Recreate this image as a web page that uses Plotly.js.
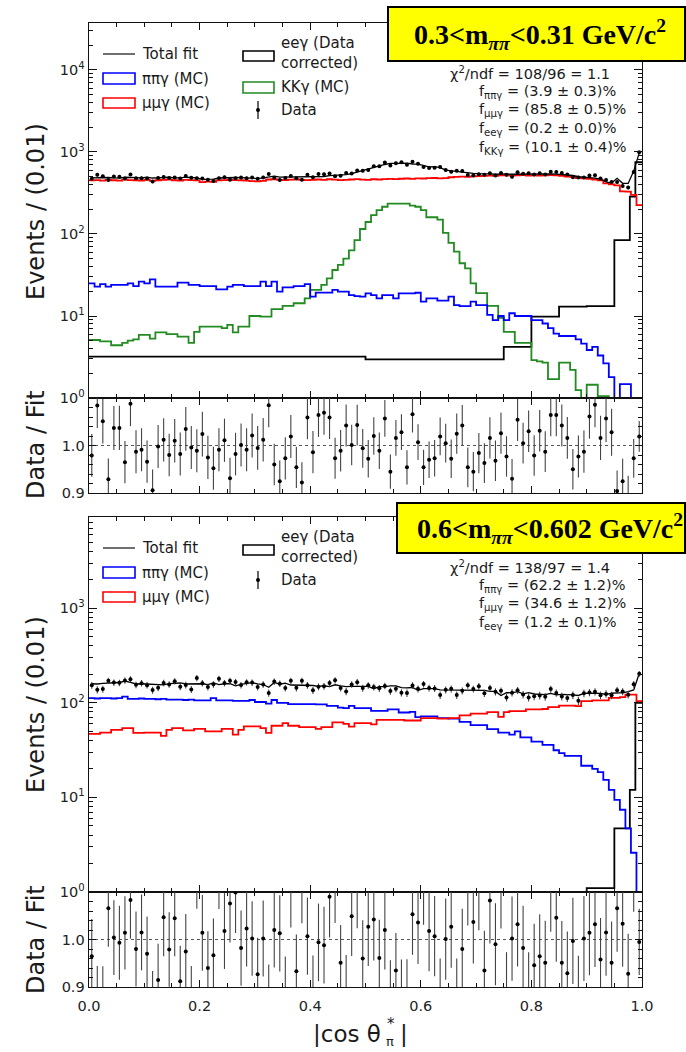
<!DOCTYPE html>
<html><head><meta charset="utf-8">
<script src="https://cdn.plot.ly/plotly-3.0.1.min.js"></script>
<style>html,body{margin:0;padding:0;background:#fff}</style>
</head><body><div id="chart" style="width:686px;height:1052px"></div>
<script>
// ---------------- data ----------------
const binWidth = 0.01;
const xTickVals = [0, 0.2, 0.4, 0.6, 0.8, 1.0];
const xTickText = ['0.0', '0.2', '0.4', '0.6', '0.8', '1.0'];
const logTickVals = [1, 10, 100, 1000, 10000];
const logTickText = ['10<sup>0</sup>', '10<sup>1</sup>', '10<sup>2</sup>', '10<sup>3</sup>', '10<sup>4</sup>'];
const ratioTickVals = [0.9, 1.0, 1.1];
const ratioTickText = ['0.9', '1.0', ''];

// top panel: 0.3 < m < 0.31
const topMuMu = [450,455,448,458,452,448,460,455,452,448,
 458,445,452,456,460,452,448,458,455,450,
 430,435,432,450,455,460,455,452,448,442,
 438,445,462,465,458,455,460,462,458,455,
 458,462,456,465,460,455,458,462,466,460,
 458,465,462,468,470,466,472,475,470,476,
 475,480,482,476,480,492,498,502,496,505,
 508,512,515,510,518,520,514,518,522,516,
 520,514,518,522,520,512,502,496,482,478,
 470,462,450,415,402,392,330,328,300,225];
const topPiPi = [25,22.8,24.5,22.8,23.9,23.9,23.9,25,23.2,26.2,
 25,28,22.8,22.8,22.8,22.8,25.5,25.5,23.9,23.9,
 23.2,23.2,23.2,21.1,21.1,22.8,23.9,23.9,23.2,23.2,
 23.2,26.2,23.2,26.2,19.8,22.4,22.4,23.2,23.2,24.5,
 17.2,19.3,19.3,19.3,20.8,19.8,19.8,18.0,17.5,17.2,
 18.9,18.0,16.4,18.0,18.0,16.4,18.9,18.9,18.9,19.2,
 15.0,16.4,16.4,15.4,15.4,17.2,13.6,13.2,13.2,15.0,
 13.6,13.6,10.3,8.9,10.0,8.9,10.8,10,10,10,
 8.9,8.9,8.1,7.1,6.1,5.7,5.7,5.7,5.2,4.6,
 3.85,4.2,3.3,2.65,1.8,1.0,1.48,1.48,0,0];
const topKK = [5.1,5.1,4.9,4.9,4.4,4.4,4.7,5.0,5.2,5.9,
 5.9,5.3,6.3,6.3,6.0,6.0,5.6,5.6,4.7,6.4,
 7.4,7.4,7.4,7.4,7.1,7.8,6.3,7.4,7.4,10,
 10,9.8,9.8,12.1,12.1,13.3,13.3,14.3,14.3,16.4,
 20.8,20.8,23.9,28.8,36.4,42,50,63,84,115,
 140,170,196,215,234,234,234,234,222,215,
 196,160,160,150,103,78,61,44,38,25,
 19,19,13.3,13.3,9.5,6.4,6.4,4.7,4.7,4.7,
 2.9,2.8,2.7,1.7,1.7,2.7,2.7,2.2,1.25,0,
 1.45,1.45,1.05,1.05,1.0,0,0,0,0,0];
const topEeEdges = [0, 0.5, 0.75, 0.8, 0.85, 0.9, 0.95, 0.978, 0.988, 1.0];
const topEeVals = [3.2, 2.96, 4.2, 9.8, 13, 13.2, 84, 285, 750];
const topRatio = [0.979,1.084,1.051,0.929,1.037,1.037,0.965,1.088,0.987,0.991,
 0.966,0.906,0.998,1.012,0.980,1.010,0.982,1.035,0.996,0.989,
 1.024,0.975,0.952,0.991,1.011,0.931,0.982,1.001,0.991,1.021,
 0.995,1.012,1.085,0.960,0.925,0.973,1.019,0.954,0.922,1.059,
 0.986,1.064,1.069,1.059,0.973,0.989,1.042,1.001,1.043,0.994,
 0.972,1.020,0.989,1.057,0.945,1.016,1.028,0.954,1.066,1.007,
 0.954,0.970,0.973,1.019,1.005,0.972,1.025,1.042,0.954,0.945,
 0.984,0.963,1.016,0.968,1.026,0.977,0.930,1.054,1.005,1.030,
 0.979,1.031,0.987,1.064,1.064,1.042,1.016,0.950,0.977,0.987,
 1.061,1.086,1.016,1.057,1.028,0.904,0.925,0.890,0.973,1.019];

// bottom panel: 0.6 < m < 0.602
const botMuMu = [47,47,48.5,48.5,51.8,51.8,54,54,48,48,
 48.5,48.5,48.5,44.8,51.8,54,54,51,51,53,
 53,50,50,50,53,53,46,51.8,56.3,56.3,
 56.3,54,48,57.2,57.2,61,57.2,57.2,55.3,55.3,
 55.3,53,55.3,55.3,62,62,60,56,61,61,
 61,59,66,66,66,66,66,65,65,65,
 69,69,69,68,68,69,69,73.5,73.5,77,
 77,77,79.5,79.5,71,79.5,81.5,81.5,81.5,85,
 85,85,86,90,90,93.5,93.5,93.5,92,104,
 104,106,106,106,113,113,115,122,122,104];
const botPiPi = [112,111,112,112,111,112,116,110,110,111,
 110,110,109,110,108,108,108,107,108,106,
 106,106,112,106,106,106,105,105,105,107,
 102,102,98,107,100,100,97,97,97,97,
 97,96,96,93,93,89,88,93,88,88,
 88,82,82,82,85,85,79,79,80,70.5,
 72,72,72,69,69,68,68,63,63,58,
 58,58,52.6,52.6,48.5,48.5,46,49.8,43,43,
 38.9,38.9,35.9,35.9,31.5,29.4,27.5,27.5,27.5,21.6,
 21.6,20,18.5,15.3,12,9.4,7.4,4.7,2.6,0];
const botEeEdges = [0, 0.9, 0.95, 0.978, 0.988, 1.0];
const botEeVals = [0, 1.1, 4.7, 12, 100];
const botRatio = [0.965,0.87,0.87,1.066,1.004,0.993,1.014,1.083,0.980,1.015,
 0.970,0.86,0.915,1.047,0.979,1.045,0.912,0.975,0.87,1.15,
 1.014,0.940,0.967,1.15,1.018,1.076,1.099,0.982,1.023,1.002,
 0.927,1.002,0.87,1.020,1.013,0.89,1.11,0.933,1.12,1.007,
 0.89,0.994,0.988,1.090,1.12,0.951,0.89,1.049,1.11,0.960,
 1.027,1.042,0.961,1.020,0.88,0.935,0.88,0.88,1.053,1.036,
 1.12,1.018,1.007,0.88,1.001,1.027,0.88,0.980,1.12,1.037,
 1.11,0.935,1.082,0.990,1.12,0.89,1.002,1.032,0.982,0.89,
 0.946,0.965,0.951,1.11,1.046,0.951,0.929,0.997,0.88,1.002,
 1.014,1.032,0.958,1.015,0.951,1.066,1.033,0.928,1.15,0.995];

// ---------------- helpers ----------------
const W = 686, H = 1052;
const FONT = 'DejaVu Sans, sans-serif';
const INK = '#1a1a1a';
const FLOOR = 0.01;
const PX = v => v / W;
const PY = v => 1 - v / H;
const pos = v => (v > 0 ? v : FLOOR);

function binStep(vals, xa, ya, color) {
  const x = [], y = [];
  for (let i = 0; i <= vals.length; i++) {
    x.push(i * binWidth);
    y.push(pos(vals[Math.min(i, vals.length - 1)]));
  }
  return {type: 'scatter', mode: 'lines', x, y, xaxis: xa, yaxis: ya,
          line: {color, width: 1.8, shape: 'hv'}, hoverinfo: 'skip', showlegend: false};
}
function edgeStep(edges, vals, xa, ya, color) {
  const y = vals.map(pos); y.push(y[y.length - 1]);
  return {type: 'scatter', mode: 'lines', x: edges.slice(), y, xaxis: xa, yaxis: ya,
          line: {color, width: 1.8, shape: 'hv'}, hoverinfo: 'skip', showlegend: false};
}
function eeAt(edges, vals, c) {
  for (let k = 0; k < vals.length; k++) if (c >= edges[k] && c < edges[k + 1]) return vals[k];
  return 0;
}
const centers = topMuMu.map((_, i) => (i + 0.5) * binWidth);

const topTotal = centers.map((c, i) => topMuMu[i] + topPiPi[i] + topKK[i] + eeAt(topEeEdges, topEeVals, c));
const topData = topTotal.map((t, i) => t * topRatio[i]);
const botTotal = centers.map((c, i) => botMuMu[i] + botPiPi[i] + eeAt(botEeEdges, botEeVals, c));
const botData = botTotal.map((t, i) => t * botRatio[i]);

function fitLine(tot, xa, ya) {
  return {type: 'scatter', mode: 'lines', x: centers, y: tot, xaxis: xa, yaxis: ya,
          line: {color: '#000', width: 1.3}, hoverinfo: 'skip', showlegend: false};
}
function dataPts(x, y, err, xa, ya) {
  return {type: 'scatter', mode: 'markers', x, y, xaxis: xa, yaxis: ya,
          marker: {color: '#000', size: 4},
          error_y: {type: 'data', array: err, visible: true, thickness: 1.1, width: 0, color: '#444'},
          hoverinfo: 'skip', showlegend: false, cliponaxis: true};
}

const traces = [
  // top main
  edgeStep(topEeEdges, topEeVals, 'x', 'y', '#000'),
  binStep(topKK, 'x', 'y', '#228B22'),
  binStep(topPiPi, 'x', 'y', '#0000ff'),
  binStep(topMuMu, 'x', 'y', '#ff0000'),
  fitLine(topTotal, 'x', 'y'),
  dataPts(centers, topData, topData.map(Math.sqrt), 'x', 'y'),
  // top ratio
  dataPts(centers, topRatio, topData.map((d, i) => Math.sqrt(d) / topTotal[i]), 'x2', 'y2'),
  // bottom main
  edgeStep(botEeEdges, botEeVals, 'x3', 'y3', '#000'),
  binStep(botPiPi, 'x3', 'y3', '#0000ff'),
  binStep(botMuMu, 'x3', 'y3', '#ff0000'),
  fitLine(botTotal, 'x3', 'y3'),
  dataPts(centers, botData, botData.map(Math.sqrt), 'x3', 'y3'),
  // bottom ratio
  dataPts(centers, botRatio, botData.map((d, i) => Math.sqrt(d) / botTotal[i]), 'x4', 'y4'),
];

// ---------------- axes ----------------
const xDom = [89 / W, 642 / W];
const tickFont = {family: FONT, size: 14.5, color: '#222'};
function xAxis(anchor, labels) {
  return {domain: xDom, anchor, range: [0, 1], showline: true, linecolor: '#111', linewidth: 1.4,
          mirror: 'allticks', ticks: 'inside', ticklen: 7, tickwidth: 1, tickcolor: '#111',
          tickmode: 'array', tickvals: xTickVals, ticktext: xTickText, showticklabels: labels,
          ticklabelstandoff: 5,
          tickfont: tickFont, showgrid: false, zeroline: false, fixedrange: true,
          minor: {ticks: 'inside', ticklen: 4, tickwidth: 1, tickcolor: '#111', tick0: 0, dtick: 0.05, showgrid: false}};
}
const minorLog = [];
for (let d = 0; d <= 4; d++) for (let m = 2; m <= 9; m++) minorLog.push(m * Math.pow(10, d));
function logAxis(anchor, dom, top) {
  return {domain: dom, anchor, type: 'log', range: [0, top], showline: true, linecolor: '#111', linewidth: 1.4,
          mirror: 'allticks', ticks: 'inside', ticklen: 8, tickwidth: 1, tickcolor: '#111',
          tickmode: 'array', tickvals: logTickVals, ticktext: logTickText, tickfont: tickFont,
          showgrid: false, zeroline: false, fixedrange: true,
          minor: {ticks: 'inside', ticklen: 4, tickwidth: 1, tickcolor: '#111', tickmode: 'array', tickvals: minorLog, showgrid: false}};
}
function ratioAxis(anchor, dom) {
  return {domain: dom, anchor, range: [0.9, 1.1], showline: true, linecolor: '#111', linewidth: 1.4,
          mirror: 'allticks', ticks: 'inside', ticklen: 7, tickwidth: 1, tickcolor: '#111',
          tickmode: 'array', tickvals: ratioTickVals, ticktext: ratioTickText, tickfont: tickFont,
          showgrid: false, zeroline: false, fixedrange: true,
          minor: {ticks: 'inside', ticklen: 4, tickwidth: 1, tickcolor: '#111', tick0: 0.9, dtick: 0.02, showgrid: false}};
}

// ---------------- shapes & annotations ----------------
const shapes = [];
const annotations = [];
function ann(text, x, y, o) {
  const base = {text, x: PX(x), y: PY(y), xref: 'paper', yref: 'paper', showarrow: false,
                xanchor: 'left', yanchor: 'middle', font: {family: FONT, size: 15, color: INK}};
  return Object.assign(base, o || {});
}
function rect(x0, y0, x1, y1, color, fill, w) {
  shapes.push({type: 'rect', xref: 'paper', yref: 'paper', x0: PX(x0), x1: PX(x1), y0: PY(y1), y1: PY(y0),
               line: {color, width: w || 1.6}, fillcolor: fill || 'rgba(0,0,0,0)', layer: 'above'});
}
function seg(x0, y0, x1, y1, color, w, dash) {
  shapes.push({type: 'line', xref: 'paper', yref: 'paper', x0: PX(x0), x1: PX(x1), y0: PY(y0), y1: PY(y1),
               line: {color, width: w || 1.3, dash: dash || 'solid'}, layer: 'above'});
}
function dot(x, y, r) {
  shapes.push({type: 'circle', xref: 'paper', yref: 'paper', x0: PX(x - r), x1: PX(x + r), y0: PY(y + r), y1: PY(y - r),
               line: {color: '#000', width: 0}, fillcolor: '#000', layer: 'above'});
}

// ratio reference lines
['2', '4'].forEach(k => shapes.push({type: 'line', xref: 'x' + k + ' domain', yref: 'y' + k, x0: 0, x1: 1, y0: 1, y1: 1,
  line: {color: '#555', width: 1, dash: 'dot'}, layer: 'below'}));

// legend builder
function legend(y0, withKK) {
  seg(103, y0, 135, y0, '#333', 1.4);
  annotations.push(ann('Total fit', 140, y0));
  rect(103, y0 + 19, 135, y0 + 30, '#0000ff');
  annotations.push(ann('ππγ (MC)', 140, y0 + 25));
  rect(103, y0 + 44, 135, y0 + 54, '#ff0000');
  annotations.push(ann('μμγ (MC)', 140, y0 + 49));
  rect(243, y0 - 3, 274, y0 + 7, '#000');
  annotations.push(ann('eeγ (Data', 279, y0 - 11));
  annotations.push(ann('corrected)', 279, y0 + 9));
  let dy;
  if (withKK) {
    rect(243, y0 + 28, 274, y0 + 39, '#228B22');
    annotations.push(ann('KKγ (MC)', 279, y0 + 33));
    dy = y0 + 56;
  } else {
    dy = y0 + 32;
  }
  seg(258, dy - 9, 258, dy + 9, '#000', 1.2);
  dot(258, dy, 2);
  annotations.push(ann('Data', 279, dy));
}
legend(54, true);
legend(548, false);

// fit-result text blocks
const infoFont = {family: FONT, size: 14.5, color: INK};
function info(lines, yStart) {
  annotations.push(ann(lines[0], 448, yStart, {font: infoFont}));
  for (let i = 1; i < lines.length; i++)
    annotations.push(ann(lines[i], 477, yStart + i * 18.7, {font: infoFont}));
}
info(['χ<sup>2</sup>/ndf = 108/96 = 1.1',
      'f<sub>ππγ</sub> = (3.9 ± 0.3)%',
      'f<sub>μμγ</sub> = (85.8 ± 0.5)%',
      'f<sub>eeγ</sub> = (0.2 ± 0.0)%',
      'f<sub>KKγ</sub> = (10.1 ± 0.4)%'], 73);
info(['χ<sup>2</sup>/ndf = 138/97 = 1.4',
      'f<sub>ππγ</sub> = (62.2 ± 1.2)%',
      'f<sub>μμγ</sub> = (34.6 ± 1.2)%',
      'f<sub>eeγ</sub> = (1.2 ± 0.1)%'], 567);

// yellow boxes
const boxFont = {family: 'Liberation Serif, Times New Roman, serif', size: 28, color: '#000'};
rect(388, 7, 685, 61, '#000', '#ffff00', 2);
annotations.push(ann('<b>0.3&lt;m<sub><i>ππ</i></sub>&lt;0.31 GeV/c<sup>2</sup></b>', 540, 34, {xanchor: 'center', font: boxFont}));
rect(397, 503, 685, 553, '#000', '#ffff00', 2);
annotations.push(ann('<b>0.6&lt;m<sub><i>ππ</i></sub>&lt;0.602 GeV/c<sup>2</sup></b>', 550, 528, {xanchor: 'center', font: boxFont}));

// axis titles
const titleFont = {family: FONT, size: 24, color: INK};
annotations.push(ann('Events / (0.01)', 36, 212, {xanchor: 'center', textangle: -90, font: titleFont}));
annotations.push(ann('Data / Fit', 36, 445, {xanchor: 'center', textangle: -90, font: titleFont}));
annotations.push(ann('Events / (0.01)', 36, 705, {xanchor: 'center', textangle: -90, font: titleFont}));
annotations.push(ann('Data / Fit', 36, 940, {xanchor: 'center', textangle: -90, font: titleFont}));
const xtFont = {family: FONT, size: 23, color: INK};
annotations.push(ann('|cos θ', 383, 1034, {xanchor: 'right', font: xtFont}));
annotations.push(ann('*', 385, 1024, {font: {family: FONT, size: 15, color: INK}}));
annotations.push(ann('π', 384, 1041, {font: {family: FONT, size: 13, color: INK}}));
annotations.push(ann('|', 398, 1034, {font: xtFont}));

const layout = {
  width: W, height: H, margin: {l: 0, r: 0, t: 0, b: 0},
  paper_bgcolor: '#fff', plot_bgcolor: 'rgba(0,0,0,0)', showlegend: false,
  xaxis: xAxis('y', false),
  xaxis2: xAxis('y2', false),
  xaxis3: xAxis('y3', false),
  xaxis4: xAxis('y4', true),
  yaxis: logAxis('x', [PY(398), PY(23)], 4.573),
  yaxis2: ratioAxis('x2', [PY(493), PY(398)]),
  yaxis3: logAxis('x3', [PY(892), PY(517)], 3.964),
  yaxis4: ratioAxis('x4', [PY(987), PY(892)]),
  shapes, annotations
};
Plotly.newPlot('chart', traces, layout, {staticPlot: true, displayModeBar: false});
</script></body></html>
